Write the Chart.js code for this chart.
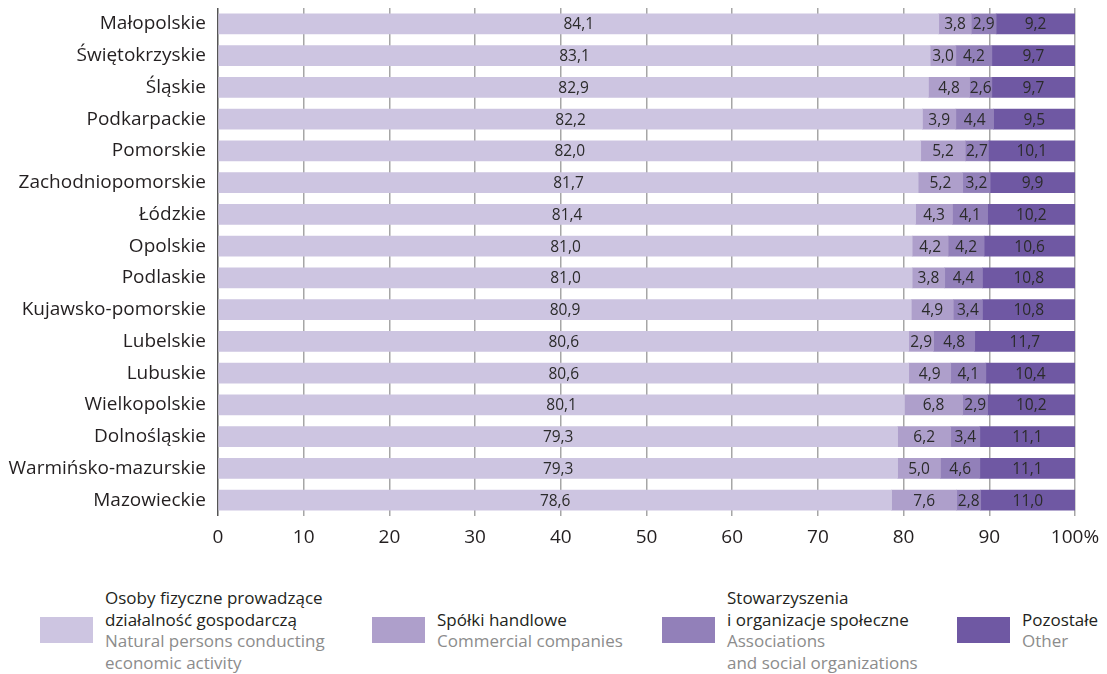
<!DOCTYPE html>
<html>
<head>
<meta charset="utf-8">
<script src="https://cdn.jsdelivr.net/npm/chart.js@4/dist/chart.umd.min.js"></script>
<style>
    body { margin: 0; background: #fff; font-family: "Open Sans", sans-serif; }
    #wrap { position: relative; width: 1107px; height: 570px; }
    #legend { position: absolute; top: 584px; left: 0; width: 1107px; height: 92px; }
    .item { position: absolute; top: 0; height: 92px; display: flex; align-items: center; }
    .box { width: 53px; height: 26px; margin-right: 12px; flex: none; }
    .txt { font-size: 17px; line-height: 21.5px; white-space: nowrap; }
    .pl { color: #231f20; }
    .en { color: #8c8c8c; }
</style>
</head>
<body>
<div id="wrap"><canvas id="chart"></canvas></div>
<div id="legend"></div>
<script>
const regions = ['Małopolskie', 'Świętokrzyskie', 'Śląskie', 'Podkarpackie', 'Pomorskie',
    'Zachodniopomorskie', 'Łódzkie', 'Opolskie', 'Podlaskie', 'Kujawsko-pomorskie',
    'Lubelskie', 'Lubuskie', 'Wielkopolskie', 'Dolnośląskie', 'Warmińsko-mazurskie', 'Mazowieckie'];

const naturalPersons = [84.1, 83.1, 82.9, 82.2, 82.0, 81.7, 81.4, 81.0, 81.0, 80.9, 80.6, 80.6, 80.1, 79.3, 79.3, 78.6];
const companies = [3.8, 3.0, 4.8, 3.9, 5.2, 5.2, 4.3, 4.2, 3.8, 4.9, 2.9, 4.9, 6.8, 6.2, 5.0, 7.6];
const associations = [2.9, 4.2, 2.6, 4.4, 2.7, 3.2, 4.1, 4.2, 4.4, 3.4, 4.8, 4.1, 2.9, 3.4, 4.6, 2.8];
const other = [9.2, 9.7, 9.7, 9.5, 10.1, 9.9, 10.2, 10.6, 10.8, 10.8, 11.7, 10.4, 10.2, 11.1, 11.1, 11.0];

const xTicks = [0, 10, 20, 30, 40, 50, 60, 70, 80, 90, 100];

const seriesPl = [['Osoby fizyczne prowadzące', 'działalność gospodarczą'], ['Spółki handlowe'],
    ['Stowarzyszenia', 'i organizacje społeczne'], ['Pozostałe']];
const seriesEn = [['Natural persons conducting', 'economic activity'], ['Commercial companies'],
    ['Associations', 'and social organizations'], ['Other']];
const colors = ['#cdc5e1', '#ae9fcb', '#9280b9', '#6f58a3'];

const legendX = [40, 372, 662, 957];

// labels in the middle of every segment
const segmentLabels = {
    id: 'segmentLabels',
    afterDatasetsDraw(chart) {
        const ctx = chart.ctx;
        ctx.save();
        ctx.font = '15.5px "Open Sans"';
        ctx.fillStyle = '#2b2b2b';
        ctx.textAlign = 'center';
        ctx.textBaseline = 'middle';
        chart.data.datasets.forEach((ds, i) => {
            chart.getDatasetMeta(i).data.forEach((bar, j) => {
                const mid = (bar.x + bar.base) / 2;
                ctx.fillText(ds.data[j].toFixed(1).replace('.', ','), mid, bar.y + 1);
            });
        });
        ctx.restore();
    }
};

const datasets = [naturalPersons, companies, associations, other].map((d, i) => ({
    label: seriesPl[i].join(' '),
    data: d,
    backgroundColor: colors[i],
    borderWidth: 0,
    barThickness: 20
}));

new Chart(document.getElementById('chart'), {
    type: 'bar',
    data: { labels: regions, datasets },
    plugins: [segmentLabels],
    options: {
        indexAxis: 'y',
        responsive: true,
        maintainAspectRatio: false,
        animation: false,
        layout: { padding: { top: 8, right: 32, left: 0, bottom: 0 } },
        plugins: { legend: { display: false }, tooltip: { enabled: false } },
        scales: {
            x: {
                stacked: true,
                min: 0,
                max: 100,
                afterFit: s => { s.height = 54; s.paddingLeft = 0; s.paddingRight = 0; },
                afterBuildTicks: s => { s.ticks = xTicks.map(v => ({ value: v })); },
                border: { display: false },
                grid: {
                    color: c => c.tick && c.tick.value === 0 ? '#555' : '#a6a6a6',
                    lineWidth: 1.5,
                    drawTicks: false
                },
                ticks: {
                    padding: 10,
                    color: '#231f20',
                    font: { family: 'Open Sans', size: 19 },
                    callback: v => v === 100 ? '100%' : v
                }
            },
            y: {
                stacked: true,
                afterFit: s => { s.width = 218; s.paddingTop = 0; s.paddingBottom = 0; },
                border: { display: false },
                grid: { display: false },
                ticks: {
                    padding: 4,
                    color: '#231f20',
                    font: { family: 'Open Sans', size: 19 }
                }
            }
        }
    }
});

const legend = document.getElementById('legend');
seriesPl.forEach((pl, i) => {
    const item = document.createElement('div');
    item.className = 'item';
    item.style.left = legendX[i] + 'px';
    const box = document.createElement('div');
    box.className = 'box';
    box.style.background = colors[i];
    const txt = document.createElement('div');
    txt.className = 'txt';
    pl.forEach(line => {
        const d = document.createElement('div');
        d.className = 'pl';
        d.textContent = line;
        txt.appendChild(d);
    });
    seriesEn[i].forEach(line => {
        const d = document.createElement('div');
        d.className = 'en';
        d.textContent = line;
        txt.appendChild(d);
    });
    item.appendChild(box);
    item.appendChild(txt);
    legend.appendChild(item);
});
</script>
</body>
</html>
